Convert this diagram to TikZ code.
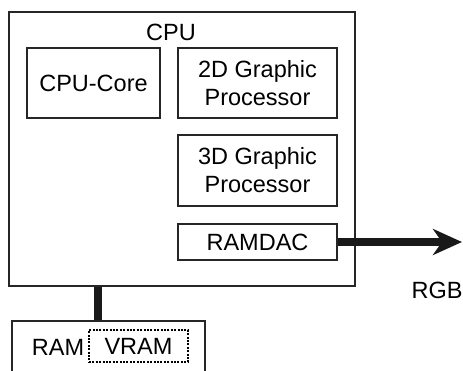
\documentclass[tikz,border=0pt]{standalone}
\usepackage{fontspec}
\setmainfont{Liberation Sans}
\usetikzlibrary{arrows.meta}
\begin{document}
\begin{tikzpicture}[x=1pt,y=-1pt,
  box/.style={draw=black!85, line width=2.3pt, inner sep=0pt, align=center,
    font=\fontsize{23.5}{28}\selectfont},
  lbl/.style={inner sep=0pt, font=\fontsize{23.5}{28}\selectfont},
  bus/.style={line width=7.5pt, draw=black!90},
  dotbox/.style={draw=black, line width=2.2pt, dash pattern=on 2pt off 1.4pt, inner sep=0pt, font=\fontsize{23.5}{28}\selectfont}]
\useasboundingbox (0,0) rectangle (463,371);
\clip (0,0) rectangle (463,371);
\node[box, minimum width=346pt, minimum height=274pt] (cpu) at (182,149) {};
\node[lbl] (cpulbl) at (171,32) {CPU};
\node[box, minimum width=133pt, minimum height=70pt] (core) at (93.5,83) {CPU-Core};
\node[box, minimum width=159pt, minimum height=70pt] (g2) at (257.5,83) {2D Graphic\\Processor};
\node[box, minimum width=159pt, minimum height=71pt] (g3) at (257.5,170.5) {3D Graphic\\Processor};
\node[box, minimum width=159pt, minimum height=36pt] (ramdac) at (257.5,242) {RAMDAC};
\node[box, minimum width=193pt, minimum height=62pt] (ram) at (108.5,352) {};
\node[lbl] (ramlbl) at (58,347) {RAM};
\node[dotbox, minimum width=99pt, minimum height=32pt] (vram) at (138.5,346) {VRAM};
\node[lbl] (rgb) at (437,290) {RGB};
\coordinate (busx) at (98,0);
\coordinate (tip) at (462,242);
\draw[bus] (cpu.south -| busx) -- (ram.north -| busx);
\draw[bus, -{Stealth[length=29pt,width=26pt,inset=9pt]}] (ramdac.east) -- (tip);
\end{tikzpicture}
\end{document}
